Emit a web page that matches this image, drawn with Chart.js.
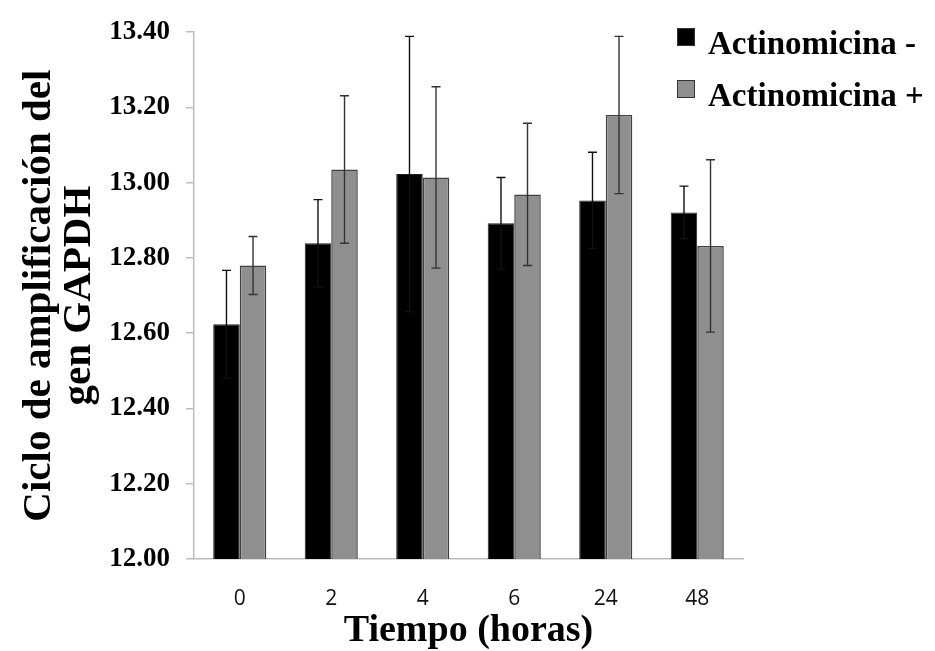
<!DOCTYPE html>
<html>
<head>
<meta charset="utf-8">
<script src="https://cdn.jsdelivr.net/npm/chart.js@4.4.0/dist/chart.umd.min.js"></script>
<style>
  body { margin: 0; background: #fff; }
  #wrap { width: 935px; height: 651px; position: relative; }
</style>
</head>
<body>
<div id="wrap"><canvas id="grafico"></canvas></div>
<script>
// Datos
const horas = ['0', '2', '4', '6', '24', '48'];
const actinoMenos = [12.624, 12.839, 13.023, 12.892, 12.953, 12.921];
const errMenos = [0.143, 0.116, 0.366, 0.122, 0.128, 0.070];
const actinoMas = [12.780, 13.035, 13.014, 12.969, 13.180, 12.832];
const errMas = [0.077, 0.196, 0.241, 0.189, 0.209, 0.229];
const yTicks = [12.0, 12.2, 12.4, 12.6, 12.8, 13.0, 13.2, 13.4];

const serif = '"Liberation Serif", "Times New Roman", serif';

// barras de error con la escala y del propio gráfico
const errorBars = {
    id: 'errorBars',
    afterDatasetsDraw(chart) {
        const ctx = chart.ctx;
        const yScale = chart.scales.y;
        const errores = [errMenos, errMas];
        ctx.save();
        ctx.lineWidth = 1.4;
        chart.data.datasets.forEach((ds, d) => {
            const meta = chart.getDatasetMeta(d);
            // sobre las barras negras la parte de abajo no se ve
            ctx.strokeStyle = d === 0 ? '#111' : '#333';
            meta.data.forEach((bar, i) => {
                const v = ds.data[i];
                const e = errores[d][i];
                const yTop = yScale.getPixelForValue(v + e);
                const yBot = yScale.getPixelForValue(v - e);
                ctx.beginPath();
                ctx.moveTo(bar.x, yTop);
                ctx.lineTo(bar.x, yBot);
                ctx.moveTo(bar.x - 4.5, yTop);
                ctx.lineTo(bar.x + 4.5, yTop);
                ctx.moveTo(bar.x - 4.5, yBot);
                ctx.lineTo(bar.x + 4.5, yBot);
                ctx.stroke();
            });
        });
        ctx.restore();
    }
};

// leyenda dibujada arriba a la derecha, encima del área
const leyenda = {
    id: 'leyenda',
    afterDraw(chart) {
        const ctx = chart.ctx;
        ctx.save();
        ctx.font = 'bold 33px ' + serif;
        ctx.textBaseline = 'alphabetic';
        chart.data.datasets.forEach((ds, i) => {
            const y = 28 + i * 52;
            ctx.fillStyle = ds.backgroundColor;
            ctx.fillRect(677, y, 18, 18);
            ctx.strokeStyle = '#333';
            ctx.lineWidth = 1;
            ctx.strokeRect(677.5, y + 0.5, 17, 17);
            ctx.fillStyle = '#000';
            ctx.fillText(ds.label, 708, y + 26);
        });
        ctx.restore();
    }
};

new Chart(document.getElementById('grafico'), {
    type: 'bar',
    data: {
        labels: horas,
        datasets: [
            {
                label: 'Actinomicina -',
                data: actinoMenos,
                backgroundColor: '#000000',
                borderColor: '#222222',
                borderWidth: 1
            },
            {
                label: 'Actinomicina +',
                data: actinoMas,
                backgroundColor: '#8f8f8f',
                borderColor: '#404040',
                borderWidth: 1.5
            }
        ]
    },
    options: {
        responsive: true,
        maintainAspectRatio: false,
        animation: false,
        datasets: { bar: { categoryPercentage: 0.58, barPercentage: 1 } },
        layout: { padding: { top: 21, right: 192, left: 0, bottom: 0 } },
        plugins: {
            legend: { display: false },
            tooltip: { enabled: false }
        },
        scales: {
            x: {
                grid: { display: false, drawTicks: false },
                border: { color: '#bdbdbd', width: 1.5 },
                ticks: {
                    color: '#111',
                    padding: 27,
                    font: { family: '"Open Sans", sans-serif', size: 21 }
                },
                title: {
                    display: true,
                    text: 'Tiempo (horas)',
                    color: '#000',
                    padding: { top: 0, bottom: -3 },
                    font: { family: serif, size: 38, weight: 'bold' }
                },
                afterFit(scale) { scale.height = 92; }
            },
            y: {
                min: 12,
                max: 13.4,
                afterBuildTicks(scale) {
                    scale.ticks = yTicks.map(v => ({ value: v }));
                },
                grid: { drawOnChartArea: false, drawTicks: true, tickLength: 8, color: '#bdbdbd', lineWidth: 1.5 },
                border: { color: '#bdbdbd', width: 1.5 },
                ticks: {
                    color: '#000',
                    padding: 16,
                    font: { family: serif, size: 27, weight: 'bold' },
                    callback: v => v.toFixed(2)
                },
                title: {
                    display: true,
                    text: ['Ciclo de amplificación del', 'gen GAPDH'],
                    color: '#000',
                    padding: { top: 19, bottom: 0 },
                    font: { family: serif, size: 41, weight: 'bold', lineHeight: 0.98 }
                },
                afterFit(scale) { scale.width = 194; }
            }
        }
    },
    plugins: [errorBars, leyenda]
});
</script>
</body>
</html>
